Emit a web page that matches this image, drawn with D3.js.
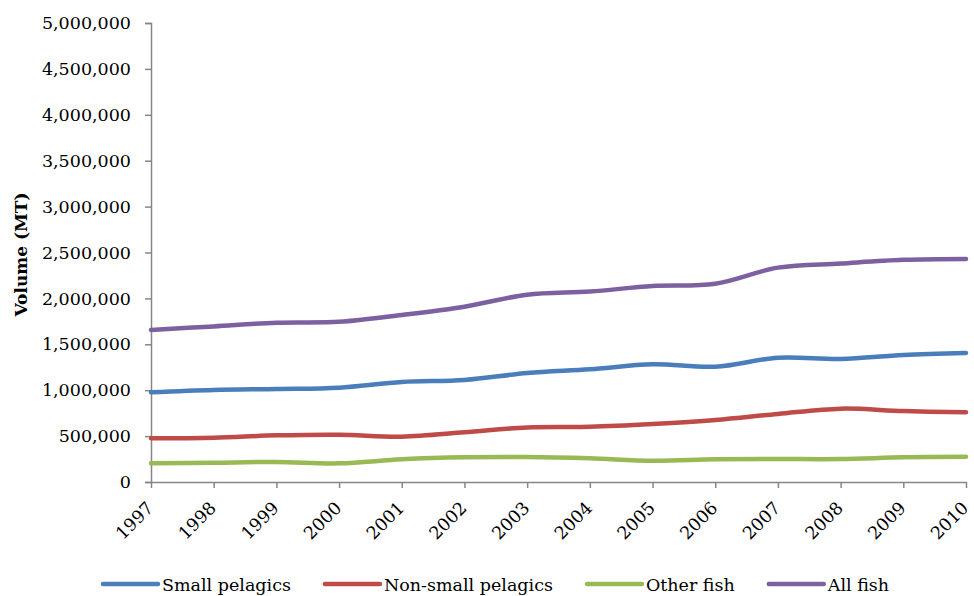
<!DOCTYPE html>
<html>
<head>
<meta charset="utf-8">
<script src="https://cdn.jsdelivr.net/npm/d3@7"></script>
<style>
  html, body { margin: 0; padding: 0; background: #fff; }
  svg text { font-family: "DejaVu Serif", serif; fill: #000; }
</style>
</head>
<body>
<svg id="chart" width="974" height="596"></svg>
<script>
// Fish volume by group, 1997-2010 (metric tonnes)
const years = [1997, 1998, 1999, 2000, 2001, 2002, 2003, 2004, 2005, 2006, 2007, 2008, 2009, 2010];
const smallPelagics    = [977000, 1002000, 1013000, 1027000, 1089000, 1111000, 1187000, 1228000, 1282000, 1256000, 1354000, 1340000, 1383000, 1405000];
const nonSmallPelagics = [476000, 483000, 508000, 515000, 494000, 541000, 595000, 602000, 632000, 675000, 741000, 799000, 773000, 759000];
const otherFish        = [203000, 210000, 218000, 203000, 247000, 269000, 272000, 258000, 232000, 247000, 250000, 250000, 269000, 276000];
const allFish          = [1656000, 1695000, 1735000, 1745000, 1820000, 1910000, 2040000, 2075000, 2135000, 2160000, 2335000, 2380000, 2420000, 2430000];
const seriesNames  = ["Small pelagics", "Non-small pelagics", "Other fish", "All fish"];
const seriesColors = ["#4A7EBB", "#BE4B48", "#98B954", "#7D60A0"];
const yTicks = [0, 500000, 1000000, 1500000, 2000000, 2500000, 3000000, 3500000, 4000000, 4500000, 5000000];

const seriesValues = [smallPelagics, nonSmallPelagics, otherFish, allFish];

const svg = d3.select("#chart");
const margin = { left: 151, right: 8, top: 23, bottom: 114 };
const W = 974, H = 596;

const x = d3.scalePoint().domain(years).range([margin.left, W - margin.right]);
const y = d3.scaleLinear().domain([0, 5000000]).range([H - margin.bottom, margin.top]);

const axisColor = "#868686";
const fmt = d3.format(",");

// Y axis
const yAxis = svg.append("g")
  .attr("transform", `translate(${margin.left},0)`)
  .call(d3.axisLeft(y).tickValues(yTicks).tickFormat(fmt).tickSize(6).tickPadding(14));
yAxis.select(".domain").attr("stroke", axisColor).attr("stroke-width", 1.5);
yAxis.selectAll(".tick line").attr("stroke", axisColor).attr("stroke-width", 1.5);
yAxis.selectAll(".tick text")
  .attr("font-family", "DejaVu Serif, serif")
  .attr("font-size", 17.5)
  .attr("fill", "#000");

// X axis
const x0 = y(0);
const xAxis = svg.append("g")
  .attr("transform", `translate(0,${x0})`)
  .call(d3.axisBottom(x).tickSize(6).tickFormat(d3.format("d")).tickSizeOuter(0));
xAxis.select(".domain").attr("stroke", axisColor).attr("stroke-width", 1.5);
xAxis.selectAll(".tick line").attr("stroke", axisColor).attr("stroke-width", 1.5);
xAxis.selectAll(".tick text")
  .attr("font-family", "DejaVu Serif, serif")
  .attr("font-size", 17.5)
  .attr("fill", "#000")
  .attr("text-anchor", "end")
  .attr("y", 0).attr("dy", 0)
  .attr("transform", "translate(3,27) rotate(-45)");

// Y axis title
svg.append("text")
  .attr("transform", `translate(27,${(margin.top + x0) / 2 + 2}) rotate(-90)`)
  .attr("text-anchor", "middle")
  .attr("font-weight", "bold")
  .attr("font-size", 17)
  .text("Volume (MT)");

// Series lines
const line = d3.line()
  .x((d, i) => x(years[i]))
  .y(d => y(d))
  .curve(d3.curveCatmullRom.alpha(0));

svg.append("g").selectAll("path")
  .data(seriesValues)
  .join("path")
  .attr("d", d => line(d))
  .attr("fill", "none")
  .attr("stroke", (d, i) => seriesColors[i])
  .attr("stroke-width", 4.5)
  .attr("stroke-linecap", "round")
  .attr("stroke-linejoin", "round");

// Legend
const legend = svg.append("g");
let lx = 103;
const ly = 584;
seriesNames.forEach((name, i) => {
  legend.append("line")
    .attr("x1", lx).attr("x2", lx + 55)
    .attr("y1", ly).attr("y2", ly)
    .attr("stroke", seriesColors[i])
    .attr("stroke-width", 4.5)
    .attr("stroke-linecap", "round");
  const t = legend.append("text")
    .attr("x", lx + 59)
    .attr("y", ly + 6.5)
    .attr("font-size", 17.5)
    .text(name);
  lx += 59 + t.node().getComputedTextLength() + 34;
});
</script>
</body>
</html>
